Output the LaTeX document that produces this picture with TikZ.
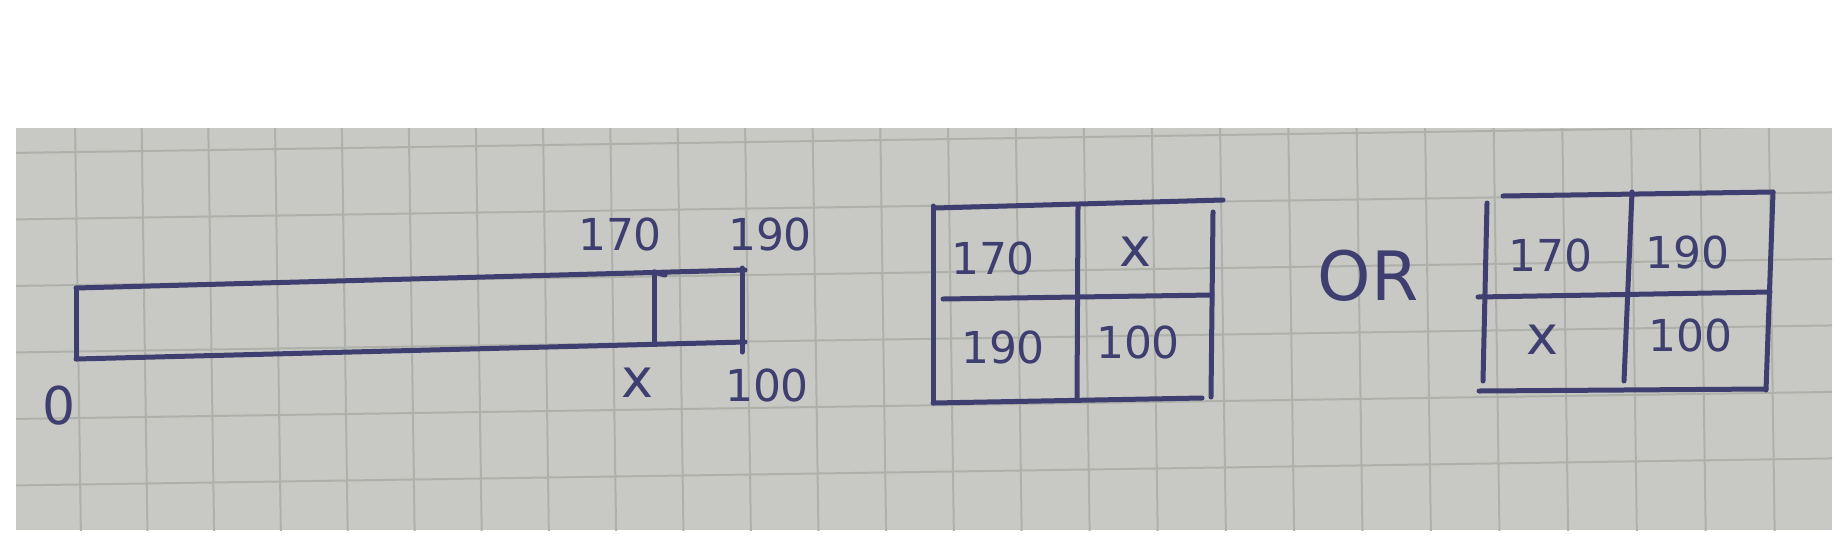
\documentclass[tikz,border=0pt]{standalone}
\usepackage{fontspec}
\setmainfont{DejaVu Sans}
\definecolor{paper}{RGB}{200,201,196}
\definecolor{gridc}{RGB}{174,176,170}
\definecolor{ink}{RGB}{62,62,112}
\tikzset{
  gridline/.style={draw=gridc, line width=1pt},
  pen/.style={draw=ink, line width=2.5pt, line cap=round},
  hand/.style={text=ink, font=\fontsize{22}{24}\selectfont, inner sep=0pt},
  handx/.style={hand, font=\fontsize{27}{28}\selectfont},
  handzero/.style={hand, font=\fontsize{26}{28}\selectfont},
  handbig/.style={hand, font=\fontsize{34}{36}\selectfont},
}
\begin{document}
\begin{tikzpicture}[x=0.5pt,y=-0.5pt]
\useasboundingbox (0,0) rectangle (1840,542);
% paper
\fill[paper] (16,128) rectangle (1832,530);
\begin{scope}
  \clip (16,128) rectangle (1832,530);
  \foreach \k in {0,...,25} {
    \pgfmathsetmacro\xk{75+66.5*\k+0.05*\k*\k}
    \draw[gridline] (\xk,120) -- (\xk+6,540);
  }
  \foreach \j in {0,...,5} {
    \pgfmathsetmacro\yj{153+66.5*\j}
    \draw[gridline] (10,\yj) -- (1840,\yj-27.2);
  }
\end{scope}

% long bar
\coordinate (bTL) at (76,288);
\coordinate (bBL) at (76,359);
\coordinate (bTR) at (745,270);
\coordinate (bBR) at (745,342);
\coordinate (iT) at (654,272);
\coordinate (iB) at (654,344);
\draw[pen] (bTL) -- (bTR);
\draw[pen] (bBL) -- (bBR);
\draw[pen] (bTL) -- (bBL);
\draw[pen] (iT) -- (iB);
\draw[pen] (iT) -- ++(11,3);
\draw[pen] (742,268) -- (742,352);

\node[hand] (l170) at (620,234) {170};
\node[hand] (l190) at (770,234) {190};
\node[handx] (lx) at (637,383) {x};
\node[hand] (l100) at (767,385) {100};
\node[handzero] (l0) at (59,406) {0};

% table 1
\draw[pen] (935,208) -- (1223,200);
\draw[pen] (933,206) -- (933,403);
\draw[pen] (933,403) -- (1202,398);
\draw[pen] (1213,212) -- (1211,397);
\draw[pen] (1078,206) -- (1077,400);
\draw[pen] (943,299) -- (1212,295);
\node[hand] (a170) at (993,258) {170};
\node[handx] (ax) at (1135,252) {x};
\node[hand] (a190) at (1003,347) {190};
\node[hand] (a100) at (1138,342) {100};

% OR
\node[handbig] (or) at (1368,276) {OR};

% table 2
\draw[pen] (1503,196) -- (1773,192);
\draw[pen] (1773,192) -- (1766,390);
\draw[pen] (1487,203) -- (1483,381);
\draw[pen] (1479,391) -- (1766,389);
\draw[pen] (1632,192) -- (1624,381);
\draw[pen] (1478,297) -- (1770,292);
\node[hand] (b170) at (1550,255) {170};
\node[hand] (b190) at (1687,252) {190};
\node[handx] (bx) at (1542,340) {x};
\node[hand] (b100) at (1690,335) {100};
\end{tikzpicture}
\end{document}
